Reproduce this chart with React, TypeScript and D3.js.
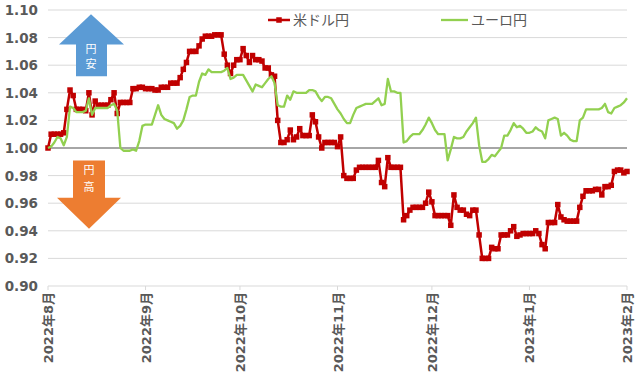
// @ts-nocheck
import React, { useEffect, useRef } from "react";
import * as d3 from "d3";

// daily values from 2022-08-01 to 2023-02-01 (index = days since start)
const startDate = new Date(2022, 7, 1);

const usdJpy = [
  1.000, 1.010, 1.010, 1.010, 1.010, 1.011, 1.028, 1.042, 1.038, 1.028,
  1.028, 1.028, 1.027, 1.040, 1.024, 1.034, 1.031, 1.031, 1.031, 1.031,
  1.035, 1.040, 1.025, 1.033, 1.033, 1.033, 1.033, 1.043, 1.043, 1.044,
  1.044, 1.043, 1.043, 1.043, 1.042, 1.042, 1.044, 1.044, 1.044, 1.047,
  1.047, 1.047, 1.051, 1.057, 1.062, 1.070, 1.070, 1.070, 1.074, 1.079,
  1.081, 1.081, 1.081, 1.082, 1.082, 1.082, 1.068, 1.060, 1.054, 1.060,
  1.064, 1.064, 1.072, 1.067, 1.062, 1.067, 1.064, 1.064, 1.063, 1.058,
  1.058, 1.053, 1.052, 1.020, 1.004, 1.004, 1.006, 1.013, 1.006, 1.008,
  1.014, 1.009, 1.009, 1.009, 1.024, 1.019, 1.008, 1.000, 1.004, 1.004,
  1.004, 1.004, 1.001, 1.008, 0.980, 0.978, 0.978, 0.978, 0.984, 0.986,
  0.986, 0.986, 0.986, 0.986, 0.986, 0.991, 0.975, 0.972, 0.993, 0.986,
  0.986, 0.986, 0.986, 0.948, 0.951, 0.955, 0.957, 0.957, 0.957, 0.957,
  0.960, 0.968, 0.961, 0.951, 0.951, 0.951, 0.951, 0.951, 0.944, 0.966,
  0.957, 0.955, 0.955, 0.952, 0.951, 0.955, 0.955, 0.937, 0.920, 0.920,
  0.920, 0.928, 0.927, 0.927, 0.937, 0.937, 0.937, 0.940, 0.943, 0.936,
  0.937, 0.938, 0.938, 0.938, 0.938, 0.940, 0.938, 0.930, 0.927, 0.946,
  0.946, 0.946, 0.959, 0.950, 0.948, 0.947, 0.947, 0.947, 0.947, 0.957,
  0.965, 0.969, 0.969, 0.969, 0.970, 0.970, 0.966, 0.972, 0.972, 0.973,
  0.983, 0.984, 0.984, 0.982, 0.983,
];

const eurJpy = [
  1.000, 1.001, 1.004, 1.008, 1.007, 1.002, 1.008, 1.030, 1.029, 1.026,
  1.026, 1.026, 1.027, 1.036, 1.024, 1.029, 1.029, 1.029, 1.029, 1.029,
  1.031, 1.032, 1.027, 1.000, 0.998, 0.998, 0.998, 0.999, 0.998, 1.005,
  1.016, 1.017, 1.017, 1.017, 1.024, 1.031, 1.024, 1.021, 1.020, 1.019,
  1.018, 1.014, 1.016, 1.020, 1.028, 1.037, 1.038, 1.038, 1.048, 1.054,
  1.053, 1.057, 1.055, 1.055, 1.055, 1.055, 1.056, 1.058, 1.050, 1.051,
  1.053, 1.053, 1.053, 1.049, 1.045, 1.041, 1.046, 1.045, 1.044, 1.047,
  1.050, 1.052, 1.047, 1.031, 1.030, 1.030, 1.038, 1.035, 1.041, 1.040,
  1.040, 1.040, 1.040, 1.042, 1.042, 1.041, 1.037, 1.034, 1.037, 1.037,
  1.036, 1.032, 1.028, 1.025, 1.021, 1.018, 1.018, 1.024, 1.029, 1.030,
  1.031, 1.032, 1.032, 1.032, 1.034, 1.036, 1.031, 1.032, 1.050, 1.041,
  1.041, 1.040, 1.040, 1.004, 1.005, 1.008, 1.010, 1.010, 1.010, 1.013,
  1.017, 1.022, 1.018, 1.013, 1.010, 1.010, 1.010, 0.991, 0.999, 1.008,
  1.007, 1.007, 1.008, 1.012, 1.015, 1.018, 1.022, 1.002, 0.990, 0.990,
  0.992, 0.995, 0.994, 0.997, 1.000, 1.009, 1.009, 1.013, 1.018, 1.015,
  1.016, 1.014, 1.011, 1.011, 1.012, 1.015, 1.013, 1.012, 1.007, 1.020,
  1.021, 1.022, 1.021, 1.009, 1.011, 1.009, 1.006, 1.005, 1.005, 1.020,
  1.022, 1.028, 1.028, 1.028, 1.028, 1.028, 1.029, 1.032, 1.026, 1.025,
  1.029, 1.030, 1.031, 1.033, 1.036,
];

const seriesNames = ["米ドル円", "ユーロ円"];
const yTicks = [0.9, 0.92, 0.94, 0.96, 0.98, 1.0, 1.02, 1.04, 1.06, 1.08, 1.1];
const monthTicks = [
  new Date(2022, 7, 1),
  new Date(2022, 8, 1),
  new Date(2022, 9, 1),
  new Date(2022, 10, 1),
  new Date(2022, 11, 1),
  new Date(2023, 0, 1),
  new Date(2023, 1, 1),
];

const width = 640;
const height = 374;
const marginLeft = 48;
const marginRight = 13;
const marginTop = 10;
const marginBottom = 88;

const red = "#c00000";
const green = "#92d050";
const textColor = "#595959";
const numFont = "'DejaVu Sans', 'Noto Sans CJK JP', sans-serif";
const jpFont = "'Noto Sans CJK JP', sans-serif";

function drawChart(svgEl) {
  const svg = d3.select(svgEl);
  svg.selectAll("*").remove();

  const x = d3
    .scaleTime()
    .domain([monthTicks[0], monthTicks[monthTicks.length - 1]])
    .range([marginLeft, width - marginRight]);
  const y = d3
    .scaleLinear()
    .domain([0.9, 1.1])
    .range([height - marginBottom, marginTop]);

  const dateOf = (i) => d3.timeDay.offset(startDate, i);

  // gridlines
  svg
    .append("g")
    .selectAll("line")
    .data(yTicks)
    .join("line")
    .attr("x1", marginLeft)
    .attr("x2", width - marginRight)
    .attr("y1", (d) => y(d))
    .attr("y2", (d) => y(d))
    .attr("stroke", "#d9d9d9")
    .attr("stroke-width", 1);

  // y labels
  svg
    .append("g")
    .selectAll("text")
    .data(yTicks)
    .join("text")
    .attr("x", 38)
    .attr("y", (d) => y(d) + 5)
    .attr("text-anchor", "end")
    .attr("font-family", numFont)
    .attr("font-weight", "bold")
    .attr("font-size", 13.5)
    .attr("fill", textColor)
    .text((d) => d3.format(".2f")(d));

  // x axis ticks and labels
  const xg = svg.append("g");
  xg.selectAll("line")
    .data(monthTicks)
    .join("line")
    .attr("x1", (d) => x(d))
    .attr("x2", (d) => x(d))
    .attr("y1", y(0.9))
    .attr("y2", y(0.9) + 4)
    .attr("stroke", "#d9d9d9");
  xg.selectAll("text")
    .data(monthTicks)
    .join("text")
    .attr("transform", (d) => `translate(${x(d) + 5},${y(0.9) + 6}) rotate(-90)`)
    .attr("text-anchor", "end")
    .attr("font-family", numFont)
    .attr("font-weight", "bold")
    .attr("font-size", 13)
    .attr("fill", textColor)
    .text((d) => `${d.getFullYear()}年${d.getMonth() + 1}月`);

  // 1.00 baseline
  svg
    .append("line")
    .attr("x1", marginLeft)
    .attr("x2", width - marginRight)
    .attr("y1", y(1))
    .attr("y2", y(1))
    .attr("stroke", "#a6a6a6")
    .attr("stroke-width", 2.2);

  // arrows
  const upTip = y(1.097);
  const upHead = y(1.075);
  const upBase = y(1.052);
  svg
    .append("path")
    .attr(
      "d",
      `M91,${upTip} L124,${upHead} L107,${upHead} L107,${upBase} L76,${upBase} L76,${upHead} L59,${upHead} Z`
    )
    .attr("fill", "#5b9bd5");
  const dnTop = y(0.991);
  const dnHead = y(0.964);
  const dnTip = y(0.9415);
  svg
    .append("path")
    .attr(
      "d",
      `M73,${dnTop} L105,${dnTop} L105,${dnHead} L121,${dnHead} L89,${dnTip} L57,${dnHead} L73,${dnHead} Z`
    )
    .attr("fill", "#ed7d31");
  const arrowText = [
    { t: "円", x: 91, y: y(1.069) },
    { t: "安", x: 91, y: y(1.058) },
    { t: "円", x: 89, y: y(0.981) },
    { t: "高", x: 89, y: y(0.969) },
  ];
  svg
    .append("g")
    .selectAll("text")
    .data(arrowText)
    .join("text")
    .attr("x", (d) => d.x)
    .attr("y", (d) => d.y)
    .attr("text-anchor", "middle")
    .attr("font-family", jpFont)
    .attr("font-size", 11)
    .attr("fill", "#ffffff")
    .text((d) => d.t);

  const line = d3
    .line()
    .x((d, i) => x(dateOf(i)))
    .y((d) => y(d));

  // USD/JPY with square markers
  svg
    .append("path")
    .attr("d", line(usdJpy))
    .attr("fill", "none")
    .attr("stroke", red)
    .attr("stroke-width", 2.5)
    .attr("stroke-linejoin", "round");
  svg
    .append("g")
    .selectAll("rect")
    .data(usdJpy)
    .join("rect")
    .attr("x", (d, i) => x(dateOf(i)) - 2.75)
    .attr("y", (d) => y(d) - 2.75)
    .attr("width", 5.5)
    .attr("height", 5.5)
    .attr("fill", red);

  // EUR/JPY
  svg
    .append("path")
    .attr("d", line(eurJpy))
    .attr("fill", "none")
    .attr("stroke", green)
    .attr("stroke-width", 2.3)
    .attr("stroke-linejoin", "round");

  // legend
  const lg = svg.append("g");
  lg.append("line")
    .attr("x1", 268)
    .attr("x2", 290)
    .attr("y1", 20)
    .attr("y2", 20)
    .attr("stroke", red)
    .attr("stroke-width", 2.5);
  lg.append("rect").attr("x", 276.25).attr("y", 17.25).attr("width", 5.5).attr("height", 5.5).attr("fill", red);
  lg.append("text")
    .attr("x", 293)
    .attr("y", 25)
    .attr("font-family", jpFont)
    .attr("font-size", 14)
    .attr("fill", textColor)
    .text(seriesNames[0]);
  lg.append("line")
    .attr("x1", 441)
    .attr("x2", 468)
    .attr("y1", 20)
    .attr("y2", 20)
    .attr("stroke", green)
    .attr("stroke-width", 2.3);
  lg.append("text")
    .attr("x", 471)
    .attr("y", 25)
    .attr("font-family", jpFont)
    .attr("font-size", 14)
    .attr("fill", textColor)
    .text(seriesNames[1]);
}

export default function App() {
  const ref = useRef(null);

  useEffect(() => {
    if (!ref.current) return;
    drawChart(ref.current);
  }, []);

  return (
    <svg
      ref={ref}
      width={width}
      height={height}
      viewBox={`0 0 ${width} ${height}`}
      style={{ position: "absolute", left: 0, top: 0, background: "#ffffff" }}
    />
  );
}
